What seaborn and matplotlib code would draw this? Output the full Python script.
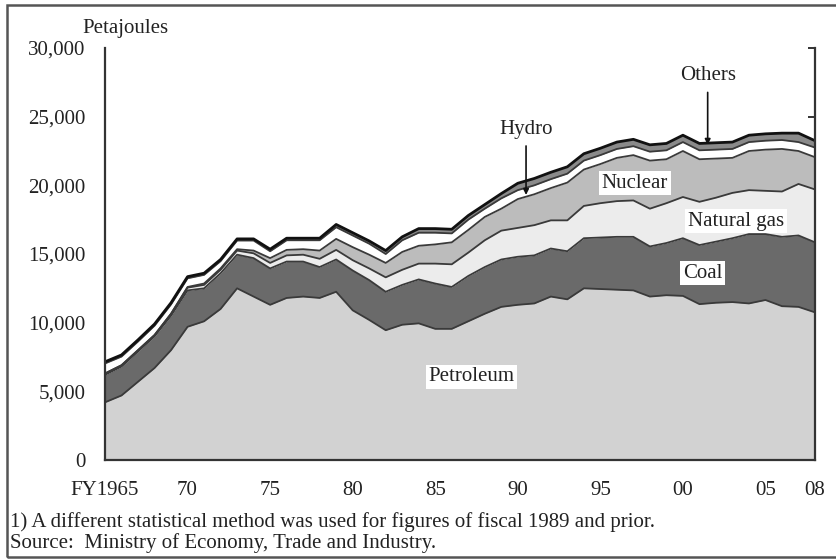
import numpy as np
import pandas as pd
import seaborn as sns
import matplotlib
matplotlib.use("Agg")
import matplotlib.pyplot as plt
from matplotlib.patches import Rectangle
from matplotlib.ticker import FuncFormatter

# Primary energy supply by source, petajoules
years = list(range(1965, 2009))

petroleum = [4200, 4700, 5700, 6700, 8000, 9700, 10100, 11000, 12500, 11900,
             11300, 11800, 11900, 11800, 12250, 10900, 10200, 9450, 9850, 9950,
             9550, 9550, 10100, 10650, 11150, 11300, 11400, 11900, 11700, 12500,
             12450, 12400, 12350, 11900, 12000, 11950, 11350, 11450, 11500, 11400,
             11650, 11200, 11150, 10750]

coal = [2000, 2100, 2200, 2300, 2500, 2650, 2400, 2600, 2450, 2800,
        2650, 2650, 2550, 2250, 2350, 2900, 2900, 2800, 2900, 3200,
        3300, 3050, 3300, 3400, 3450, 3500, 3500, 3500, 3500, 3650,
        3750, 3850, 3900, 3650, 3800, 4200, 4300, 4450, 4650, 5050,
        4800, 5050, 5200, 5100]

natural_gas = [100, 100, 100, 100, 150, 200, 250, 250, 300, 350,
               400, 450, 500, 600, 700, 750, 850, 1050, 1100, 1150,
               1450, 1650, 1700, 1950, 2100, 2100, 2200, 2050, 2250, 2350,
               2500, 2600, 2650, 2750, 2900, 3000, 3150, 3200, 3300, 3200,
               3150, 3300, 3750, 3850]

nuclear = [0, 0, 0, 0, 0, 50, 100, 100, 100, 200,
           350, 400, 400, 600, 800, 950, 1000, 1050, 1300, 1300,
           1400, 1600, 1650, 1700, 1600, 2100, 2250, 2350, 2750, 2650,
           2850, 3150, 3300, 3500, 3200, 3350, 3100, 2850, 2550, 2850,
           3000, 3100, 2400, 2350]

hydro = [730, 630, 630, 680, 680, 630, 630, 530, 630, 730,
         500, 700, 650, 750, 850, 850, 800, 650, 850, 950,
         850, 650, 750, 600, 750, 650, 650, 650, 650, 650,
         650, 650, 650, 650, 650, 650, 650, 650, 650, 650,
         650, 650, 650, 700]

others = [120, 120, 120, 120, 120, 120, 120, 120, 120, 120,
          150, 150, 150, 150, 200, 200, 200, 250, 250, 300,
          300, 300, 300, 300, 350, 500, 500, 500, 500, 500,
          500, 500, 500, 500, 500, 500, 500, 500, 500, 500,
          500, 500, 650, 500]

sources = ["Petroleum", "Coal", "Natural gas", "Nuclear", "Hydro", "Others"]
fills = ["#d2d2d2", "#6a6a6a", "#ececec", "#bcbcbc", "#ffffff", "#8a8a8a"]

xtick_years = [1965, 1970, 1975, 1980, 1985, 1990, 1995, 2000, 2005, 2008]
xtick_labels = ["FY1965", "70", "75", "80", "85", "90", "95", "00", "05", "08"]

df = pd.DataFrame({"year": years, "Petroleum": petroleum, "Coal": coal,
                   "Natural gas": natural_gas, "Nuclear": nuclear,
                   "Hydro": hydro, "Others": others})

sns.set_theme(style="white")
plt.rcParams["font.family"] = ["Liberation Serif", "DejaVu Serif"]

fig = plt.figure(figsize=(8.36, 5.59), dpi=100)
ax = fig.add_axes([105 / 836, 1 - 460 / 559, 710 / 836, 412 / 559])

ax.stackplot(df["year"], [df[s] for s in sources], colors=fills, linewidth=0)

# boundary lines between layers
cum = df[sources].cumsum(axis=1)
long = cum.reset_index().melt(id_vars="index", value_vars=sources,
                              var_name="layer", value_name="top")
long["year"] = df["year"].values[long["index"]]
sns.lineplot(data=long[long["layer"] != "Others"], x="year", y="top",
             units="layer", estimator=None, color="#3a3a3a", lw=1.3, ax=ax)
sns.lineplot(data=long[long["layer"] == "Others"], x="year", y="top",
             color="#111111", lw=2.0, ax=ax)

ax.set_xlim(1965, 2008)
ax.set_ylim(0, 30000)
ax.set_xticks(xtick_years)
ax.set_xticklabels(xtick_labels)
ax.set_yticks(range(0, 30001, 5000))
ax.yaxis.set_major_formatter(FuncFormatter(lambda v, p: f"{int(v):,}"))
ax.set_xlabel("")
ax.set_ylabel("")

for side in ["left", "right", "bottom"]:
    ax.spines[side].set_visible(True)
    ax.spines[side].set_color("#333333")
    ax.spines[side].set_linewidth(1.6)
ax.spines["top"].set_visible(False)
ax.tick_params(axis="both", direction="in", length=5, width=1.4,
               color="#333333", labelsize=15, labelcolor="#222222")
ax.tick_params(axis="x", pad=15, bottom=True)
ax.tick_params(axis="y", pad=14, right=True)

box = dict(facecolor="white", edgecolor="none", pad=2)
lab = dict(fontsize=15, color="#222222", ha="center", va="center")
ax.text(1987.2, 6050, "Petroleum", bbox=box, **lab)
ax.text(2001.2, 13600, "Coal", bbox=box, **lab)
ax.text(2003.2, 17400, "Natural gas", bbox=box, **lab)
ax.text(1997.1, 20150, "Nuclear", bbox=box, **lab)

ax.annotate("Hydro", xy=(1990.5, 19300), xytext=(1990.5, 24100),
            arrowprops=dict(arrowstyle="-|>", color="#111111", lw=1.2,
                            mutation_scale=8, shrinkA=3, shrinkB=0), **lab)
ax.annotate("Others", xy=(2001.5, 22950), xytext=(2001.5, 28000),
            arrowprops=dict(arrowstyle="-|>", color="#111111", lw=1.2,
                            mutation_scale=8, shrinkA=3, shrinkB=0), **lab)

fig.text(125 / 836, 1 - 29 / 559, "Petajoules", fontsize=15,
         color="#222222", ha="center", va="center")
fig.text(10 / 836, 1 - 522 / 559,
         "1) A different statistical method was used for figures of fiscal 1989 and prior.",
         fontsize=15, color="#222222", ha="left", va="center")
fig.text(10 / 836, 1 - 543 / 559,
         "Source:  Ministry of Economy, Trade and Industry.",
         fontsize=15, color="#222222", ha="left", va="center")

# frame round the whole picture
fig.patches.append(Rectangle((7 / 836, 2 / 559), 1.0, 1 - 7 / 559,
                             transform=fig.transFigure, fill=False,
                             edgecolor="#555555", lw=1.8))

fig.savefig("out.png", dpi=100)
